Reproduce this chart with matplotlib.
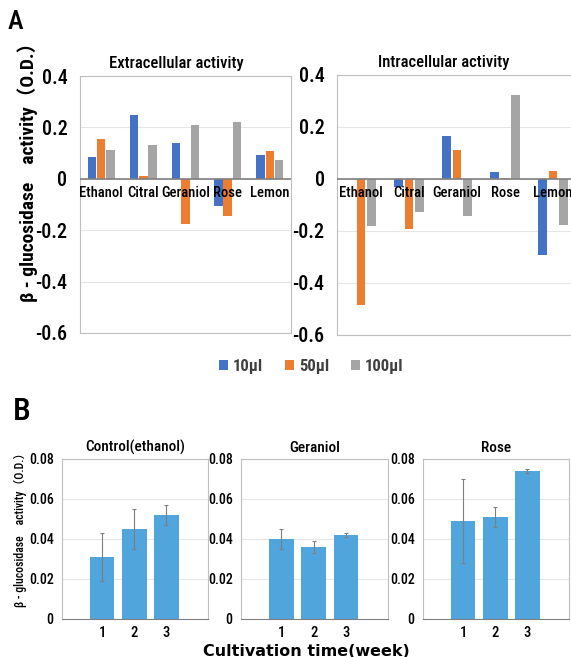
import matplotlib
matplotlib.use('Agg')
import numpy as np
import matplotlib.pyplot as plt

plt.rcParams['font.family'] = ['Roboto Condensed', 'Noto Sans CJK JP', 'DejaVu Sans']
plt.rcParams['font.weight'] = 'medium'
plt.rcParams['axes.titleweight'] = 'medium'

# panel A data
aromas = ['Ethanol', 'Citral', 'Geraniol', 'Rose', 'Lemon']
doses = ['10μl', '50μl', '100μl']
extra_10 = [0.085, 0.25, 0.14, -0.104, 0.092]
extra_50 = [0.153, 0.01, -0.176, -0.146, 0.107]
extra_100 = [0.111, 0.13, 0.208, 0.22, 0.073]
intra_10 = [0.0, -0.03, 0.165, 0.027, -0.292]
intra_50 = [-0.485, -0.194, 0.113, 0.002, 0.03]
intra_100 = [-0.18, -0.127, -0.141, 0.323, -0.177]

# panel B data
weeks = [1, 2, 3]
ctrl_mean = [0.031, 0.045, 0.052]
ctrl_err = [0.012, 0.010, 0.005]
ger_mean = [0.040, 0.036, 0.042]
ger_err = [0.005, 0.003, 0.001]
rose_mean = [0.049, 0.051, 0.074]
rose_err = [0.021, 0.005, 0.001]

W, H = 571, 657
colors = ['#4472C4', '#ED7D31', '#A5A5A5']
grid_c = '#e6e6e6'
frame_c = '#bfbfbf'


def px(l, t, r, b):
    return [l / W, 1 - b / H, (r - l) / W, (b - t) / H]


def style(ax):
    for s in ax.spines.values():
        s.set_color(frame_c)
    ax.tick_params(length=0)
    ax.yaxis.grid(True, color=grid_c, lw=0.8)
    ax.set_axisbelow(True)


fig = plt.figure(figsize=(W / 100, H / 100), dpi=100)

fig.text(15 / W, 1 - 22 / H, 'A', fontsize=19, ha='center', va='center')
fig.text(22 / W, 1 - 412 / H, 'B', fontsize=23, ha='center', va='center')

panelA = [
    (px(80, 76, 291, 333), 'Extracellular activity', [extra_10, extra_50, extra_100], 0.2, 0.455),
    (px(337, 75, 577, 335), 'Intracellular activity', [intra_10, intra_50, intra_100], 0.18, 0.446),
]
x = np.arange(len(aromas))
for rect, title, series, bw, tx in panelA:
    ax = fig.add_axes(rect)
    style(ax)
    for k, vals in enumerate(series):
        ax.bar(x + (k - 1) * 0.22, vals, width=bw, color=colors[k], label=doses[k], zorder=2)
    ax.axhline(0, color='#808080', lw=1.2, zorder=3)
    ax.set_ylim(-0.6, 0.4)
    ax.set_xlim(-0.5, len(aromas) - 0.5)
    ax.set_yticks([-0.6, -0.4, -0.2, 0, 0.2, 0.4])
    ax.set_yticklabels(['-0.6', '-0.4', '-0.2', '0', '0.2', '0.4'], fontsize=14.5)
    ax.tick_params(axis='y', pad=9)
    ax.set_xticks([])
    for i, name in enumerate(aromas):
        ax.annotate(name, (i, 0), xytext=(0, -5), textcoords='offset points',
                    ha='center', va='top', fontsize=10.5, zorder=4)
    ax.set_title(title, fontsize=12, pad=6, x=tx)
    if title.startswith('Extra'):
        axA = ax

fig.text(28 / W, 1 - 167 / H, 'β - glucosidase    activity（O.D.）', rotation=90,
         ha='center', va='center', fontsize=14, fontweight='bold')

handles, labels = axA.get_legend_handles_labels()
fig.legend(handles, labels, loc='center', bbox_to_anchor=(311 / W, 1 - 366 / H), ncol=3,
           frameon=False, handlelength=0.55, handleheight=0.55,
           columnspacing=1.3, handletextpad=0.3, labelcolor='#404040',
           prop={'weight': 'bold', 'size': 12})

panelB = [
    (px(62, 459, 208, 619), 'Control(ethanol)', ctrl_mean, ctrl_err),
    (px(241, 459, 388, 619), 'Geraniol', ger_mean, ger_err),
    (px(423, 459, 569, 619), 'Rose', rose_mean, rose_err),
]
for rect, title, mean, err in panelB:
    ax = fig.add_axes(rect)
    style(ax)
    ax.bar(weeks, mean, width=0.77, color='#4FA5DC', yerr=err,
           error_kw=dict(ecolor='#7f7f7f', lw=0.8, capsize=1.5, capthick=0.8), zorder=2)
    ax.set_ylim(0, 0.08)
    ax.set_xlim(-0.25, 4.3)
    ax.set_yticks([0, 0.02, 0.04, 0.06, 0.08])
    ax.set_yticklabels(['0', '0.02', '0.04', '0.06', '0.08'], fontsize=10)
    ax.tick_params(axis='y', pad=6)
    ax.tick_params(axis='x', pad=5)
    ax.set_xticks(weeks)
    ax.set_xticklabels([str(w) for w in weeks], fontsize=10.5)
    ax.spines['bottom'].set_color('#808080')
    ax.set_title(title, fontsize=11, pad=5)

fig.text(20 / W, 1 - 527 / H, 'β - glucosidase    activity（O.D.）', rotation=90,
         ha='center', va='center', fontsize=8.5)
fig.text(306 / W, 1 - 651 / H, 'Cultivation time(week)', ha='center', va='center',
         fontsize=11.5, fontweight='bold', family=['DejaVu Sans', 'Noto Sans CJK JP'])

fig.savefig('out.png', dpi=100)
